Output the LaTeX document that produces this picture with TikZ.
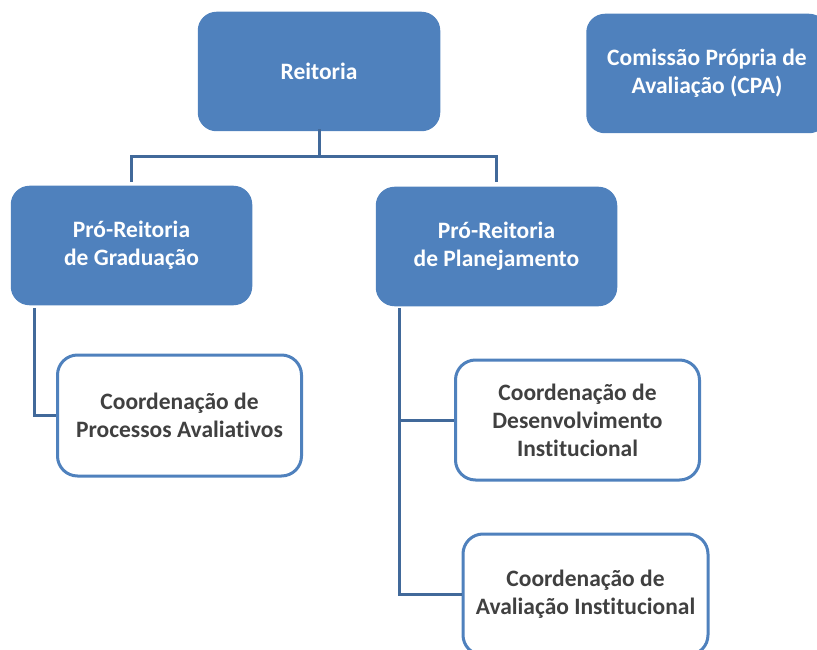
\documentclass[tikz,border=0pt]{standalone}
\usepackage{fontspec}
\setmainfont{Carlito}[Ligatures=CommonOff]
\definecolor{boxblue}{HTML}{4F81BD}
\definecolor{lineblue}{HTML}{41699A}
\definecolor{textgray}{HTML}{404040}
\begin{document}
\begin{tikzpicture}[x=1pt,y=-1pt,
  bluebox/.style={draw=boxblue,fill=boxblue,line width=1.5pt,rounded corners=18pt,
    text=white,font=\bfseries\fontsize{23.5}{28}\selectfont,align=center,inner sep=0pt},
  whitebox/.style={draw=boxblue,fill=white,line width=3pt,rounded corners=20pt,
    text=textgray,font=\bfseries\fontsize{23.5}{28}\selectfont,align=center,inner sep=0pt},
  conn/.style={draw=lineblue,line width=3pt}]
\useasboundingbox (0,0) rectangle (817,650);
\node[bluebox,minimum width=241pt,minimum height=118pt] (reit) at (319,71.5) {Reitoria};
\node[bluebox,minimum width=240pt,minimum height=118pt] (cpa) at (707,73.5) {Comissão Própria de\\Avaliação (CPA)};
\node[bluebox,minimum width=240pt,minimum height=118pt] (prg) at (131.5,245.5) {Pró-Reitoria\\de Graduação};
\node[bluebox,minimum width=240pt,minimum height=118pt] (prp) at (496.5,246.5) {Pró-Reitoria\\de Planejamento};
\node[whitebox,minimum width=244pt,minimum height=121pt] (cpav) at (179.5,415.5) {Coordenação de\\Processos Avaliativos};
\node[whitebox,minimum width=244pt,minimum height=120pt] (cdi) at (577.5,420) {Coordenação de\\Desenvolvimento\\Institucional};
\node[whitebox,minimum width=245pt,minimum height=121pt] (cai) at (585.5,594.5) {Coordenação de\\Avaliação Institucional};
\coordinate (mid) at (319,157);
\draw[conn] ([yshift=2pt]reit.south) -- (mid);
\draw[conn] (prg.north |- 0,182) |- (mid) -| (prp.north |- 0,182);
\draw[conn] (34,308) |- (cpav.west);
\draw[conn] (399,308) |- (cai.west);
\draw[conn] (399,0 |- cdi.west) -- (cdi.west);
\end{tikzpicture}
\end{document}
